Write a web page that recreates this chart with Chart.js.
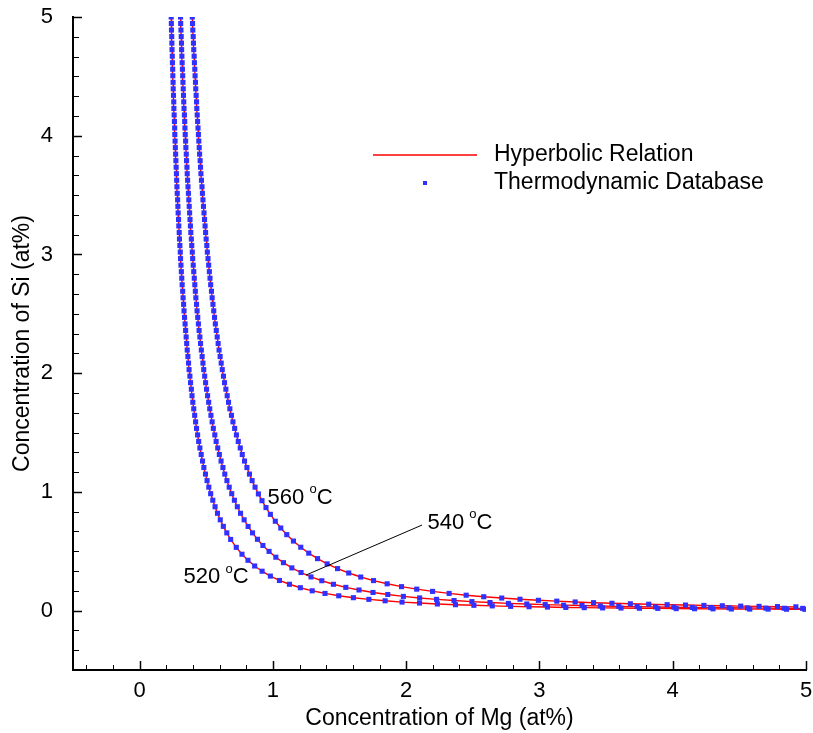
<!DOCTYPE html>
<html><head><meta charset="utf-8">
<script src="https://cdn.jsdelivr.net/npm/chart.js@4/dist/chart.umd.min.js"></script>
<style>html,body{margin:0;padding:0;background:#fff}#wrap{width:813px;height:733px}</style>
</head><body><div id="wrap"><canvas id="c" width="813" height="733"></canvas></div>
<script>
// ---- data ----
const curveNames = ['520 \u00B0C', '540 \u00B0C', '560 \u00B0C'];
const seriesNames = ['Hyperbolic Relation', 'Thermodynamic Database'];

// Si (at%) values along the steep branch, shared by the three isotherms
const siSteep = [5.000,4.945,4.890,4.835,4.780,4.725,4.670,4.615,4.560,4.505,4.450,4.395,4.340,4.285,4.230,4.175,4.120,4.065,4.010,3.955,3.900,3.845,3.790,3.735,3.680,3.625,3.570,3.515,3.460,3.405,3.350,3.295,3.240,3.185,3.130,3.075,3.020,2.965,2.910,2.855,2.800,2.745,2.690,2.635,2.580,2.525,2.470,2.415,2.360,2.305,2.250,2.195,2.140,2.085,2.030,1.975,1.920,1.865,1.810,1.755,1.700,1.645,1.590,1.535,1.480,1.425,1.370,1.315,1.260,1.205,1.150,1.095,1.040];

// 520 C
const mg520 = [0.237,0.238,0.239,0.241,0.242,0.243,0.245,0.246,0.248,0.249,0.251,0.252,0.254,0.256,0.257,0.259,0.261,0.263,0.264,0.266,0.268,0.270,0.272,0.274,0.276,0.278,0.280,0.282,0.285,0.287,0.289,0.292,0.294,0.297,0.299,0.302,0.305,0.307,0.310,0.313,0.316,0.319,0.323,0.326,0.330,0.333,0.337,0.341,0.345,0.349,0.353,0.357,0.362,0.367,0.371,0.377,0.382,0.388,0.393,0.399,0.406,0.413,0.420,0.427,0.435,0.443,0.452,0.462,0.472,0.482,0.494,0.506,0.519,
  0.533,0.549,0.566,0.584,0.605,0.628,0.654,0.683,
  0.725,0.768,0.813,0.863,0.919,0.981,1.049,1.124,1.206,1.295,1.391,1.494,1.604,1.720,1.842,1.969,2.100,2.234,2.370,2.508,2.646,2.784,2.922,3.060,3.198,3.336,3.474,3.612,3.750,3.888,4.026,4.164,4.302,4.440,4.578,4.716,4.854,4.992];
const si520 = siSteep.concat([0.985,0.930,0.875,0.820,0.765,0.710,0.655,0.600,
  0.533,0.475,0.424,0.376,0.332,0.291,0.254,0.222,0.193,0.167,0.145,0.125,0.109,0.095,0.083,0.072,0.064,0.056,0.050,0.045,0.040,0.036,0.033,0.030,0.027,0.025,0.023,0.022,0.020,0.019,0.017,0.016,0.015,0.014,0.013,0.013,0.012,0.011]);

// 540 C
const mg540 = [0.307,0.308,0.310,0.312,0.314,0.315,0.317,0.319,0.321,0.323,0.325,0.327,0.329,0.331,0.333,0.336,0.338,0.340,0.342,0.345,0.347,0.350,0.352,0.355,0.357,0.360,0.363,0.366,0.369,0.372,0.375,0.378,0.381,0.384,0.388,0.391,0.395,0.398,0.402,0.406,0.410,0.414,0.418,0.422,0.427,0.431,0.436,0.441,0.446,0.452,0.457,0.463,0.469,0.475,0.481,0.488,0.495,0.502,0.510,0.518,0.526,0.535,0.544,0.553,0.564,0.574,0.586,0.598,0.611,0.625,0.639,0.655,0.672,
  0.691,0.711,0.733,0.757,0.784,
  0.814,0.847,0.884,0.925,0.971,1.022,1.079,1.142,1.211,1.286,1.367,1.454,1.547,1.646,1.751,1.862,1.979,2.101,2.228,2.359,2.493,2.629,2.767,2.905,3.043,3.181,3.319,3.457,3.595,3.733,3.871,4.009,4.147,4.285,4.423,4.561,4.699,4.837,4.975];
const si540 = siSteep.concat([0.985,0.930,0.875,0.820,0.765,
  0.709,0.655,0.601,0.549,0.499,0.450,0.404,0.360,0.321,0.284,0.252,0.222,0.196,0.174,0.153,0.136,0.120,0.107,0.095,0.085,0.076,0.068,0.061,0.056,0.051,0.046,0.043,0.039,0.036,0.034,0.031,0.029,0.027,0.026,0.024,0.023,0.021,0.020,0.019]);

// 560 C
const mg560 = [0.395,0.397,0.399,0.402,0.404,0.406,0.409,0.411,0.414,0.416,0.419,0.421,0.424,0.427,0.429,0.432,0.435,0.438,0.441,0.444,0.447,0.450,0.454,0.457,0.460,0.464,0.468,0.471,0.475,0.479,0.483,0.487,0.491,0.495,0.499,0.504,0.508,0.513,0.518,0.523,0.528,0.533,0.539,0.544,0.550,0.556,0.562,0.568,0.575,0.582,0.589,0.596,0.604,0.612,0.620,0.629,0.637,0.647,0.657,0.667,0.677,0.689,0.700,0.713,0.726,0.740,0.755,0.770,0.787,0.805,0.824,0.844,0.866,
  0.891,0.918,0.948,0.981,1.018,1.059,1.104,1.154,1.209,1.269,1.335,1.407,1.485,1.569,1.659,1.755,1.857,1.965,2.079,2.198,2.322,2.450,2.582,2.717,2.854,2.992,3.130,3.268,3.406,3.544,3.682,3.820,3.958,4.096,4.234,4.372,4.510,4.648,4.786,4.924];
const si560 = siSteep.concat([
  0.983,0.926,0.868,0.811,0.753,0.696,0.640,0.586,0.534,0.484,0.438,0.394,0.354,0.317,0.283,0.253,0.226,0.202,0.181,0.162,0.145,0.130,0.117,0.106,0.096,0.087,0.080,0.073,0.067,0.062,0.058,0.054,0.050,0.047,0.044,0.041,0.038,0.036,0.034,0.032]);

// label anchor points (data units) and leader line
const curveLabelX = [0.33, 2.16, 0.96];
const curveLabelY = [0.28, 0.74, 0.95];
const leaderX = [1.249, 2.119];
const leaderY = [0.300, 0.721];

// axes
const xTicks = [0, 1, 2, 3, 4, 5];
const yTicks = [0, 1, 2, 3, 4, 5];
const xTickLabels = ['0', '1', '2', '3', '4', '5'];
const yTickLabels = ['0', '1', '2', '3', '4', '5'];
const xTitle = 'Concentration of Mg (at%)';
const yTitle = 'Concentration of Si (at%)';

// ---- build ----
const FONT = '"Liberation Sans", Arial, Helvetica, sans-serif';
const RED = '#ff0000';
const BLUE = 'rgb(48,48,255)';
const pts = (xs, ys) => xs.map((x, i) => ({x: x, y: ys[i]}));
const curves = [pts(mg520, si520), pts(mg540, si540), pts(mg560, si560)];

const datasets = [];
curves.forEach((d, i) => datasets.push({
  label: seriesNames[1] + ' ' + curveNames[i], data: d, showLine: false,
  pointStyle: 'rect', pointRadius: 3.6, pointBackgroundColor: BLUE, pointBorderWidth: 0, order: 1
}));
curves.forEach((d, i) => datasets.push({
  label: seriesNames[0] + ' ' + curveNames[i], data: d, showLine: true, borderColor: RED,
  borderWidth: 1.4, pointRadius: 0, tension: 0, order: 2
}));

const decor = {
  id: 'decor',
  afterDraw(chart) {
    const ctx = chart.ctx, xs = chart.scales.x, ys = chart.scales.y, ca = chart.chartArea;
    ctx.save();
    // inward tick marks
    ctx.strokeStyle = '#000';
    const tickX = (v, len, w) => { const p = Math.round(xs.getPixelForValue(v)) + 0.5; ctx.lineWidth = w; ctx.beginPath(); ctx.moveTo(p, ca.bottom); ctx.lineTo(p, ca.bottom - len); ctx.stroke(); };
    const tickY = (v, len, w) => { const p = Math.round(ys.getPixelForValue(v)) + 0.5; ctx.lineWidth = w; ctx.beginPath(); ctx.moveTo(ca.left, p); ctx.lineTo(ca.left + len, p); ctx.stroke(); };
    for (let k = -2; k <= 25; k++) { if (k % 5 !== 0) tickX(k / 5, 5, 1); }
    xTicks.forEach(v => tickX(v, 9, 1.5));
    for (let k = -2; k <= 29; k++) { if (k % 6 !== 0) tickY(k / 6, 6, 1); }
    yTicks.forEach(v => tickY(v, 9, 1.5));

    // leader line
    ctx.lineWidth = 1; ctx.strokeStyle = '#000';
    ctx.beginPath();
    ctx.moveTo(xs.getPixelForValue(leaderX[0]), ys.getPixelForValue(leaderY[0]));
    ctx.lineTo(xs.getPixelForValue(leaderX[1]), ys.getPixelForValue(leaderY[1]));
    ctx.stroke();

    // curve labels with superscript o
    ctx.fillStyle = '#000'; ctx.textBaseline = 'middle'; ctx.textAlign = 'left';
    curveNames.forEach((name, i) => {
      const parts = name.split(' ');
      let px = xs.getPixelForValue(curveLabelX[i]);
      const py = ys.getPixelForValue(curveLabelY[i]);
      ctx.font = '22px ' + FONT;
      const num = parts[0] + ' ';
      ctx.fillText(num, px, py); px += ctx.measureText(num).width - 1;
      ctx.font = '13px ' + FONT;
      ctx.fillText('o', px, py - 8); px += ctx.measureText('o').width;
      ctx.font = '22px ' + FONT;
      ctx.fillText('C', px, py);
    });

    // legend
    const lx = ca.left + 300, ly = ca.top + 138;
    ctx.strokeStyle = RED; ctx.lineWidth = 1.5;
    ctx.beginPath(); ctx.moveTo(lx, ly); ctx.lineTo(lx + 104, ly); ctx.stroke();
    ctx.fillStyle = BLUE; ctx.fillRect(lx + 50, ly + 26, 4, 4);
    ctx.fillStyle = '#000'; ctx.font = '23px ' + FONT;
    ctx.fillText(seriesNames[0], lx + 121, ly);
    ctx.fillText(seriesNames[1], lx + 121, ly + 28);
    ctx.restore();
  }
};

new Chart(document.getElementById('c'), {
  type: 'scatter',
  data: {datasets: datasets},
  options: {
    responsive: false, animation: false, devicePixelRatio: 1,
    layout: {padding: {top: 17, right: 7, left: 0, bottom: 0}},
    plugins: {legend: {display: false}, tooltip: {enabled: false}},
    scales: {
      x: {
        type: 'linear', min: -0.5, max: 5,
        afterBuildTicks: s => { s.ticks = xTicks.map(v => ({value: v})); },
        afterFit: s => { s.height = 63; },
        grid: {display: true, drawOnChartArea: false, drawTicks: true, tickLength: 8, color: 'rgba(0,0,0,0)'},
        border: {display: true, color: '#000', width: 2},
        ticks: {autoSkip: false, maxRotation: 0, padding: 0, color: '#000', font: {family: FONT, size: 22},
          callback: v => xTickLabels[xTicks.indexOf(v)]},
        title: {display: true, text: xTitle, color: '#000', font: {family: FONT, size: 23}, padding: {top: 0, bottom: 1}}
      },
      y: {
        type: 'linear', min: -0.5, max: 5,
        afterBuildTicks: s => { s.ticks = yTicks.map(v => ({value: v})); },
        afterFit: s => { s.width = 73; },
        grid: {display: true, drawOnChartArea: false, drawTicks: true, tickLength: 18, color: 'rgba(0,0,0,0)'},
        border: {display: true, color: '#000', width: 2},
        ticks: {autoSkip: false, padding: 2, color: '#000', font: {family: FONT, size: 22},
          callback: v => yTickLabels[yTicks.indexOf(v)]},
        title: {display: true, text: yTitle, color: '#000', font: {family: FONT, size: 23}, padding: {top: 9, bottom: 0}}
      }
    }
  },
  plugins: [decor]
});
</script></body></html>
